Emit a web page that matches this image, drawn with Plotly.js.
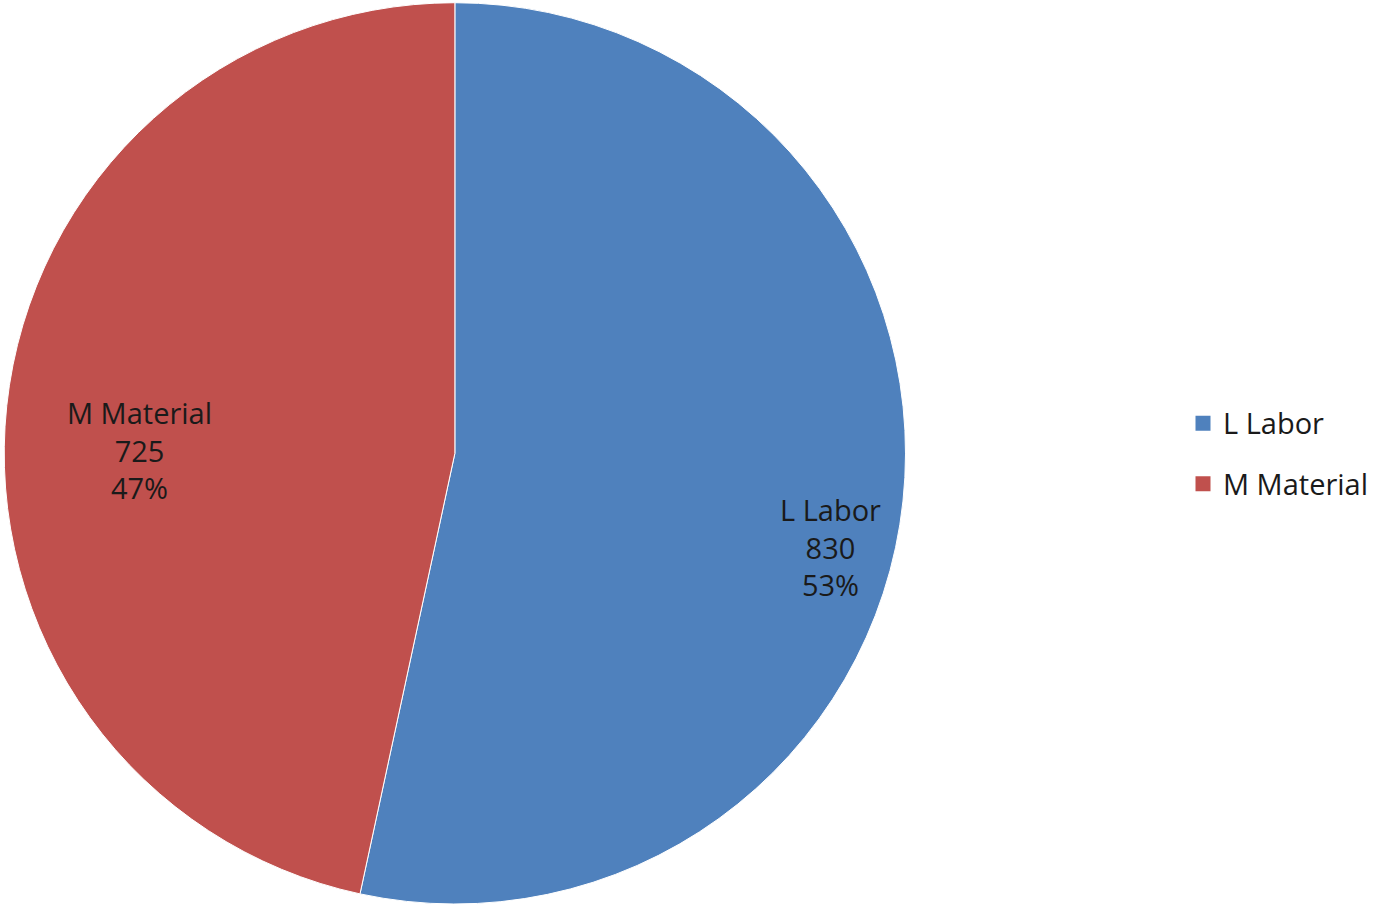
<!DOCTYPE html>
<html><head><meta charset="utf-8">
<script src="https://cdn.plot.ly/plotly-3.0.1.min.js"></script>
<style>html,body{margin:0;padding:0;background:#fff;}#chart{width:1374px;height:904px;}</style>
</head><body><div id="chart"></div>
<script>
const categories = ["L Labor", "M Material"];
const values = [830, 725];
const colors = ["#4F81BD", "#C0504D"];

const FONT = "Open Sans, sans-serif";
const total = values.reduce((a, b) => a + b, 0);

const pie = {
  type: "pie",
  labels: categories,
  values: values,
  marker: {colors: colors, line: {color: "#ffffff", width: 1}},
  sort: false,
  direction: "clockwise",
  rotation: 0,
  textinfo: "none",
  showlegend: false,
  domain: {x: [0.003, 0.6625], y: [0, 0.997]},
  hoverinfo: "none"
};

// legend entries (pie legend spacing cannot be widened, so use marker-only traces)
const legendTraces = categories.map((c, i) => ({
  type: "scatter", mode: "markers", x: [null], y: [null],
  name: c, legendgroup: "g" + i, showlegend: true,
  marker: {symbol: "square", size: 15, color: colors[i]},
  hoverinfo: "none"
}));

// data label placement (Excel "best fit"), in paper coordinates
const labelPos = [[0.6077, 0.3949], [0.1019, 0.5022]];
const annotations = categories.map((c, i) => ({
  xref: "paper", yref: "paper",
  x: labelPos[i][0], y: labelPos[i][1],
  xanchor: "center", yanchor: "middle", showarrow: false,
  text: c + "<br>" + values[i] + "<br>" + Math.round(values[i] / total * 100) + "%",
  font: {family: FONT, size: 29, color: "#1a1a1a"}
}));

const layout = {
  width: 1374, height: 904,
  margin: {l: 0, r: 0, t: 0, b: 0},
  paper_bgcolor: "#ffffff", plot_bgcolor: "#ffffff",
  xaxis: {visible: false}, yaxis: {visible: false},
  showlegend: true,
  legend: {x: 0.8654, y: 0.498, xanchor: "left", yanchor: "middle",
    traceorder: "grouped", tracegroupgap: 20,
    font: {family: FONT, size: 29, color: "#1a1a1a"}},
  annotations: annotations
};
Plotly.newPlot("chart", [pie, ...legendTraces], layout, {displayModeBar: false, staticPlot: true});
</script></body></html>
